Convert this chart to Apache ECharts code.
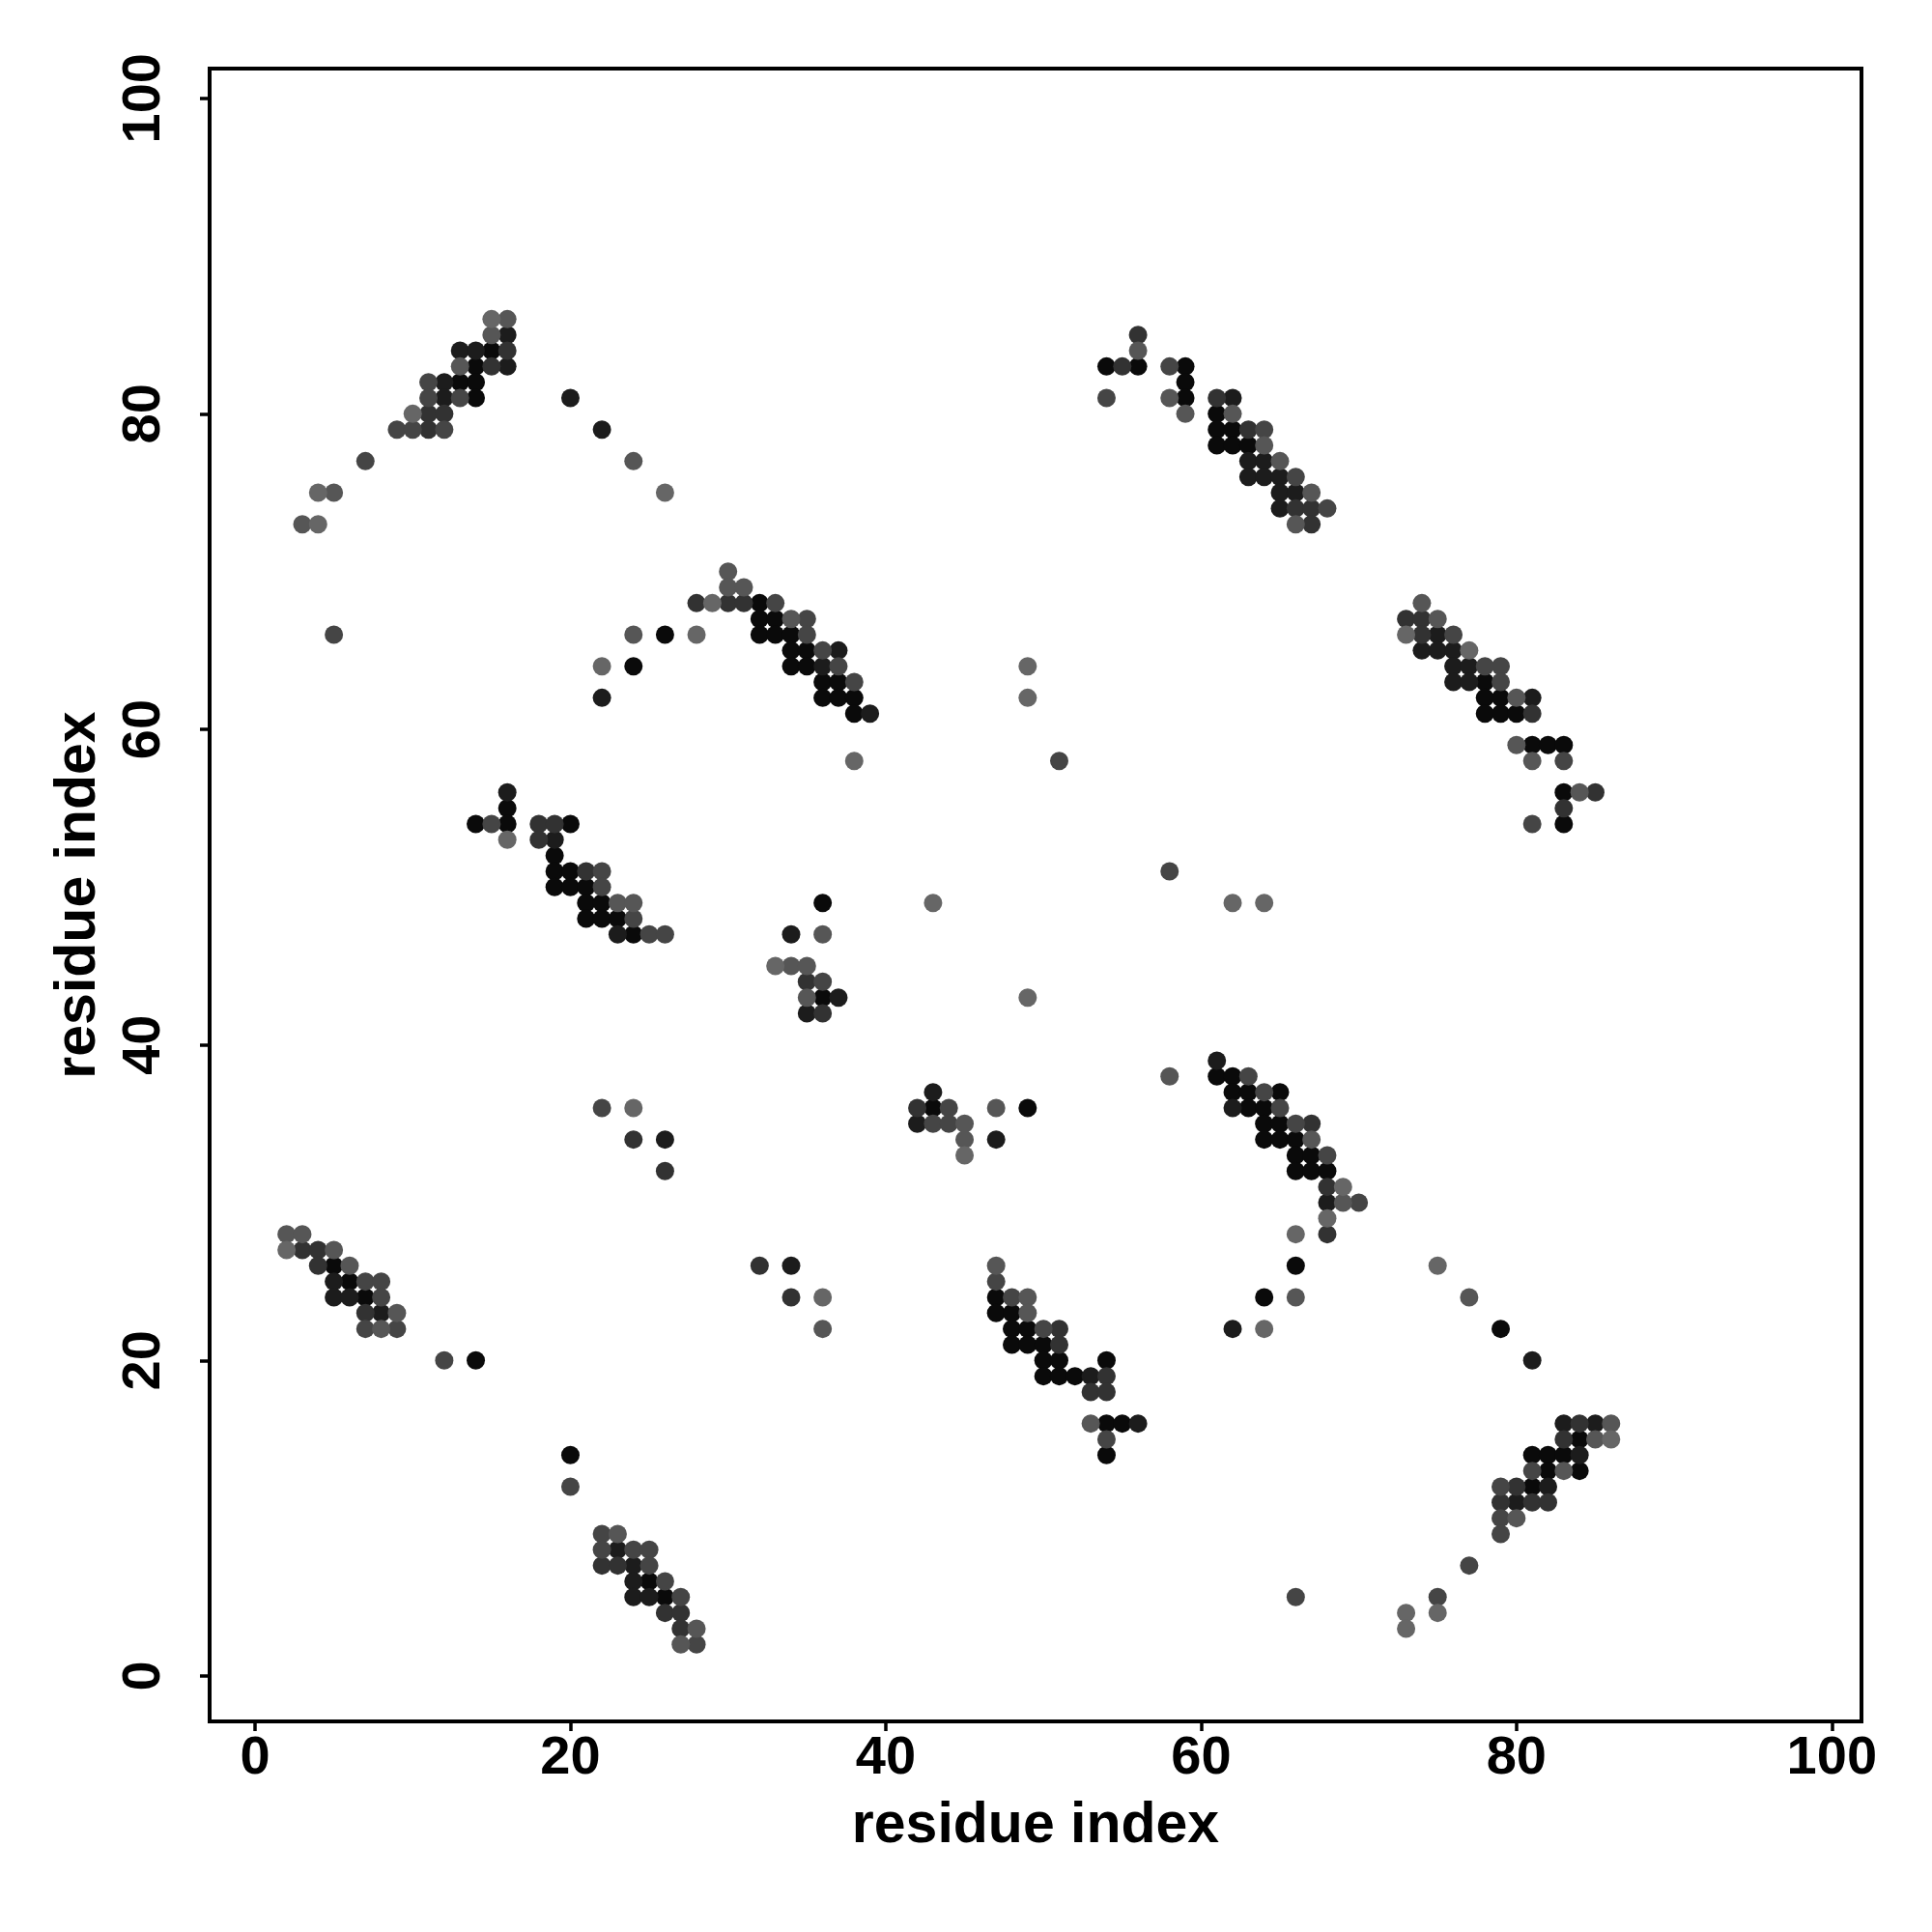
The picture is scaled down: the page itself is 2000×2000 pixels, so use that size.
<!DOCTYPE html>
<html>
<head>
<meta charset="utf-8">
<script src="https://cdn.jsdelivr.net/npm/echarts@6/dist/echarts.min.js"></script>
<style>html,body{margin:0;padding:0;background:#fff}#chart{width:2000px;height:2000px}</style>
</head>
<body>
<div id="chart"></div>
<script>
// tick labels
const tickValues = [0, 20, 40, 60, 80, 100];
const axisTitle = 'residue index';

// contacts [residue i, residue j], grouped by shade (level1 = darkest)
const level1 = [
  [15,84],[14,83],[13,82],[14,82],[14,81],[26,66],[32,68],[32,67],[33,67],[32,66],[33,66],[34,66],
  [34,65],[35,65],[34,64],[35,64],[36,63],[37,63],[36,62],[37,62],[38,62],[38,61],[24,64],
  [54,83],[56,83],[59,83],[59,82],[59,81],[61,80],[61,79],[62,79],[61,78],[62,78],[63,78],
  [78,63],[78,62],[79,62],[78,61],[79,61],[80,61],[81,59],[82,59],[83,59],[83,56],[83,54],
  [16,55],[14,54],[16,54],[20,54],[19,52],[19,51],[20,51],[19,50],[20,50],[21,50],[21,49],[22,49],
  [21,48],[22,48],[23,48],[24,47],[36,49],[36,43],[43,36],[49,36],
  [61,38],[62,38],[62,37],[63,37],[65,37],[63,36],[64,36],[64,35],[65,35],[64,34],[65,34],[66,34],
  [66,33],[67,33],[66,32],[67,32],[68,32],[66,26],[64,24],[79,22],
  [5,26],[6,25],[7,24],[14,20],[47,24],[47,23],[48,23],[48,22],[49,22],[48,21],[49,21],[50,21],
  [50,20],[51,20],[54,20],[50,19],[51,19],[52,19],[54,16],[55,16],[54,14],
  [20,14],[25,6],[26,5],[84,15],[81,14],[82,14],[83,14],[82,13],[84,13],[81,12]
];
const level2 = [
  [16,85],[13,84],[14,84],[16,83],[12,82],[12,81],[20,81],[22,79],[37,65],[36,64],[39,61],[22,62],
  [62,81],[63,77],[64,77],[63,76],[64,76],[65,76],[65,75],[66,75],[65,74],
  [75,66],[74,65],[75,65],[76,65],[76,64],[77,64],[76,63],[77,63],[81,62],
  [16,56],[19,53],[23,47],[34,47],[37,43],[35,42],[43,37],[42,35],[47,34],[26,34],
  [61,39],[62,36],[68,30],[62,22],[81,20],
  [5,25],[5,24],[6,24],[8,23],[34,26],[53,19],[56,16],
  [23,8],[24,7],[24,6],[24,5],[25,5],[83,16],[85,16],[84,14],[82,12],[80,11]
];
const level3 = [
  [16,84],[15,83],[11,80],[12,80],[11,79],[28,68],[30,68],[31,68],
  [56,85],[55,83],[61,81],[63,79],[66,74],[67,74],[67,73],
  [73,67],[74,67],[74,66],[81,61],[85,56],[83,55],
  [18,54],[19,54],[18,53],[21,51],[35,44],[36,42],[42,36],[24,34],[26,32],
  [67,35],[68,31],[68,28],
  [3,27],[4,27],[4,26],[7,23],[32,26],[34,24],[51,22],[51,21],[54,19],[53,18],[54,18],
  [22,7],[23,7],[26,4],[27,4],[27,3],[84,16],[83,15],[80,12],[79,11],[81,11],[82,11]
];
const level4 = [
  [11,82],[11,81],[13,81],[9,79],[10,79],[12,79],[7,77],[5,66],
  [33,68],[35,67],[35,66],[36,65],[37,64],[38,63],[51,58],
  [58,83],[54,81],[64,79],[66,76],[68,74],
  [76,66],[78,64],[79,64],[79,63],[83,58],[81,54],[58,51],
  [15,54],[22,51],[22,50],[24,48],[25,47],[26,47],[36,44],
  [44,36],[43,35],[44,35],[22,36],
  [63,38],[64,37],[65,36],[66,35],[68,33],[70,30],
  [7,25],[8,25],[8,24],[7,22],[9,22],[12,20],[47,25],[48,24],[50,22],[54,15],
  [20,12],[22,9],[22,8],[24,8],[25,8],[25,7],[26,6],[27,5],[28,2],
  [81,13],[79,12],[79,10],[79,9],[77,7],[66,5],[75,5]
];
const level5 = [
  [16,86],[15,85],[13,83],[5,75],[3,73],[24,77],[24,66],
  [30,70],[30,69],[31,69],[34,67],
  [56,84],[58,81],[59,80],[62,80],[64,78],[65,77],[67,75],[66,73],
  [74,68],[75,67],[80,62],[80,59],[81,58],[84,56],
  [23,49],[24,49],[36,47],[34,45],[35,45],[35,43],[47,36],[45,35],[45,34],
  [58,38],[67,34],[69,30],[66,24],[77,24],
  [2,28],[3,28],[5,27],[6,26],[8,22],[9,23],[47,26],[49,24],[49,23],[36,22],[53,16],
  [23,9],[28,3],[27,2],[85,15],[83,13],[86,16],[80,10]
];
const level6 = [
  [15,86],[10,80],[4,75],[4,73],[26,75],[28,66],[29,68],[38,58],[49,64],[49,62],[22,64],
  [73,66],[77,65],[62,49],[64,49],
  [16,53],[43,49],[33,45],[49,43],[24,36],[45,33],
  [69,31],[68,29],[66,28],[75,26],[64,22],
  [2,27],[36,24],[86,15],[73,4],[75,4],[73,3]
];

const shades = [
  {data: level1, color: '#0a0a0a'},
  {data: level2, color: '#1c1c1c'},
  {data: level3, color: '#323232'},
  {data: level4, color: '#454545'},
  {data: level5, color: '#565656'},
  {data: level6, color: '#666666'}
];

const font = 'Liberation Sans, Arial, Helvetica, sans-serif';
const chart = echarts.init(document.getElementById('chart'), null, {renderer: 'canvas'});

function axisCommon(isY) {
  return {
    type: 'value',
    position: isY ? 'left' : 'bottom',
    min: -2.88,
    max: 101.88,
    name: axisTitle,
    nameLocation: 'middle',
    nameGap: isY ? 106 : 79,
    nameRotate: isY ? 90 : 0,
    nameTextStyle: {fontFamily: font, fontWeight: 'bold', fontSize: 59, color: '#000'},
    axisLine: {show: false, onZero: false},
    axisTick: {show: true, customValues: tickValues, length: 10, inside: false,
               lineStyle: {color: '#000', width: 3.5}},
    axisLabel: {show: true, customValues: tickValues, margin: isY ? 39 : 11,
                rotate: isY ? 90 : 0,
                fontFamily: font, fontWeight: 'bold', fontSize: 56, color: '#000'},
    splitLine: {show: false}
  };
}

chart.setOption({
  animation: false,
  backgroundColor: '#fff',
  grid: {left: 217, top: 71, width: 1710, height: 1711, show: true,
         borderColor: '#000', borderWidth: 4, backgroundColor: 'transparent',
         containLabel: false},
  xAxis: axisCommon(false),
  yAxis: axisCommon(true),
  series: shades.map(s => ({
    type: 'scatter',
    data: s.data,
    symbol: 'circle',
    symbolSize: 19,
    itemStyle: {color: s.color, opacity: 1},
    emphasis: {disabled: true}
  }))
});
</script>
</body>
</html>
